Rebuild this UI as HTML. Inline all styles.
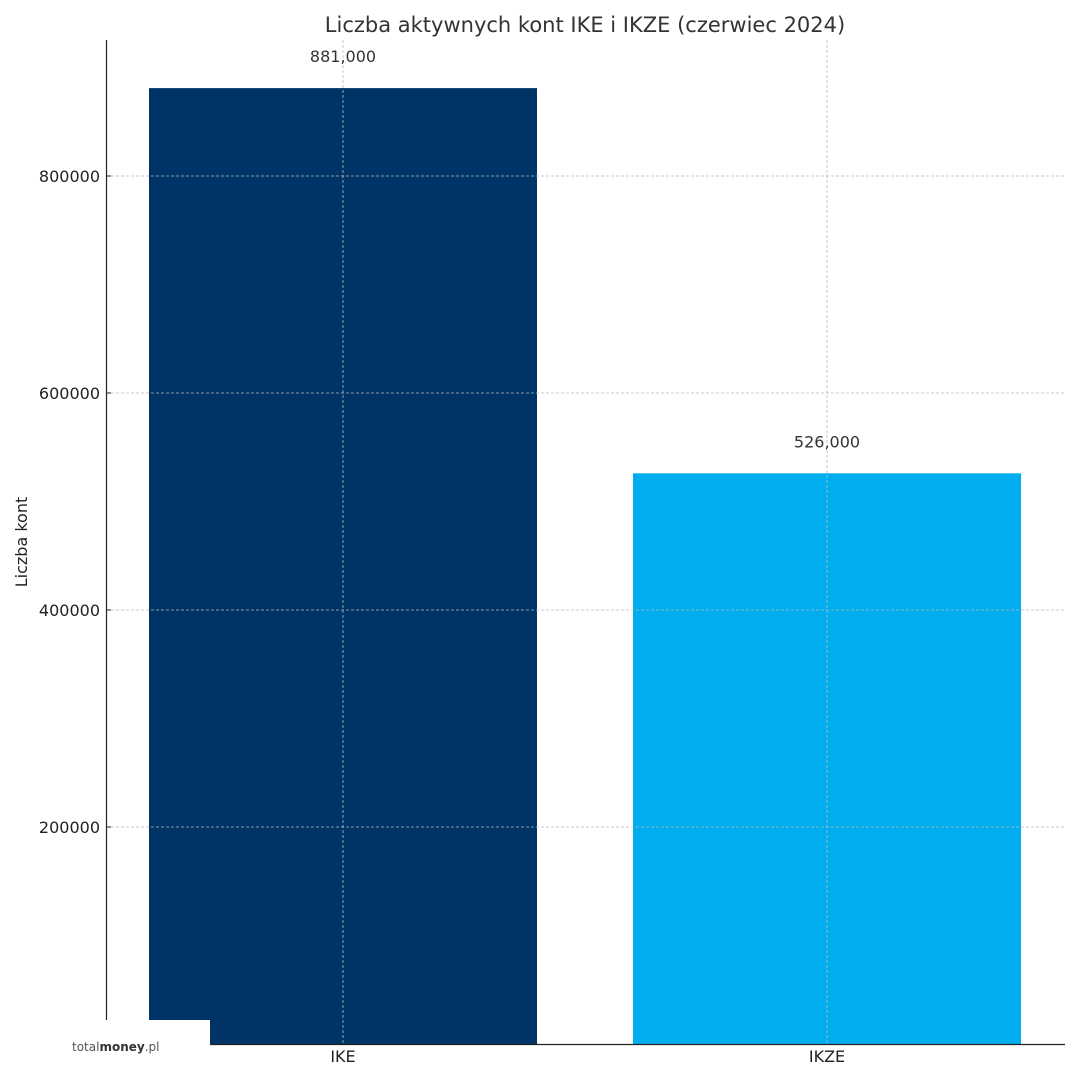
<!DOCTYPE html>
<html><head><meta charset="utf-8"><style>
body{margin:0;background:#fff;}
svg text{font-family:"DejaVu Sans","Liberation Sans",sans-serif;}
</style></head><body>
<svg id="chart" width="1080" height="1080" xmlns="http://www.w3.org/2000/svg">
<rect width="1080" height="1080" fill="#fff"/>
<text x="585" y="32" text-anchor="middle" font-size="21" fill="#333">Liczba aktywnych kont IKE i IKZE (czerwiec 2024)</text>
<text transform="translate(27,542) rotate(-90)" text-anchor="middle" font-size="16" fill="#222">Liczba kont</text>
<g id="bars"></g>
<g id="grid"></g>
<g id="labels"></g>
<line x1="106.5" y1="40" x2="106.5" y2="1020" stroke="#222" stroke-width="1.2"/>
<line x1="106" y1="1044.5" x2="1065" y2="1044.5" stroke="#222" stroke-width="1.2"/>
<rect x="0" y="1020" width="210" height="60" fill="#fff"/>
<text x="72" y="1051" font-size="12" fill="#555" font-family="Liberation Sans, sans-serif">total<tspan font-weight="bold" fill="#333">money</tspan>.pl</text>
</svg>
<script>
const categories=["IKE","IKZE"];
const values=[881000,526000];
const valueLabels=["881,000","526,000"];
const yTicks=[200000,400000,600000,800000];
const colors=["#003366","#00AEEF"];
const NS="http://www.w3.org/2000/svg";
const y0=1044,pxPer=217/200000;
const yScale=v=>y0-v*pxPer;
const xCenter=i=>343+i*484;
const bw=388;
function mk(t,a,p){const e=document.createElementNS(NS,t);for(const k in a)e.setAttribute(k,a[k]);p.appendChild(e);return e;}
const bars=document.getElementById('bars'),grid=document.getElementById('grid'),labels=document.getElementById('labels');
categories.forEach((c,i)=>{
 const r=mk('rect',{x:xCenter(i)-bw/2,y:yScale(values[i]),width:bw,height:y0-yScale(values[i]),fill:colors[i]},bars);
 
 
 const t=mk('text',{x:xCenter(i),y:yScale(values[i])-26,'text-anchor':'middle','font-size':'16',fill:'#333'},labels);
 t.textContent=valueLabels[i];
 
 
 const xl=mk('text',{x:xCenter(i),y:1062,'text-anchor':'middle','font-size':'16',fill:'#222'},labels);
 xl.textContent=c;
 
 
 const g=mk('line',{x1:xCenter(i),x2:xCenter(i),y1:40,y2:y0,stroke:'#bbb','stroke-width':0.8,'stroke-dasharray':'3,2'},grid);
 
 
});
yTicks.forEach(v=>{
 const y=yScale(v);
 const g=mk('line',{x1:106,x2:1065,y1:y,y2:y,stroke:'#bbb','stroke-width':0.8,'stroke-dasharray':'3,2'},grid);
 
 
 const tk=mk('line',{x1:106,x2:111,y1:y,y2:y,stroke:'#222','stroke-width':1},grid);
 
 
 const t=mk('text',{x:100,y:y+6,'text-anchor':'end','font-size':'16',fill:'#222'},labels);
 t.textContent=String(v);
 
 
});
</script>
</body></html>
